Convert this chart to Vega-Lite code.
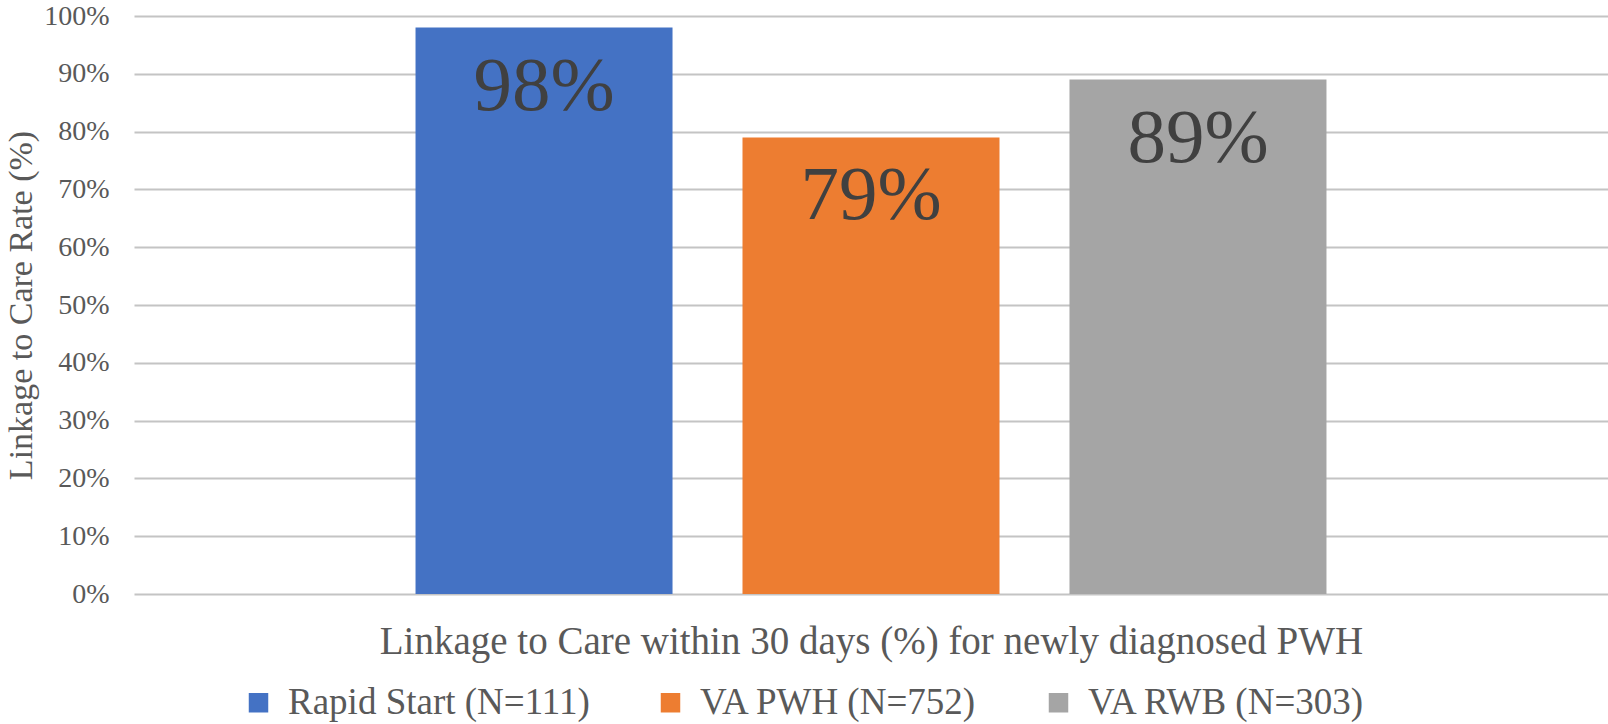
{
  "$schema": "https://vega.github.io/schema/vega-lite/v6.json",
  "width": 1474,
  "height": 578,
  "autosize": {"type": "none"},
  "padding": {"left": 134, "top": 16, "right": 0, "bottom": 130},
  "background": "white",
  "config": {
    "view": {"stroke": null},
    "font": "Liberation Serif"
  },
  "data": {
    "values": [
      {"group": "Rapid Start (N=111)", "rate": 0.98},
      {"group": "VA PWH (N=752)", "rate": 0.79},
      {"group": "VA RWB (N=303)", "rate": 0.89}
    ]
  },
  "encoding": {
    "x": {
      "field": "group",
      "type": "nominal",
      "sort": ["Rapid Start (N=111)", "VA PWH (N=752)", "VA RWB (N=303)"],
      "scale": {"paddingInner": 0.214, "paddingOuter": 0.861},
      "axis": {
        "title": "Linkage to Care within 30 days (%) for newly diagnosed PWH",
        "labels": false,
        "ticks": false,
        "domain": false,
        "titleFont": "Liberation Serif",
        "titleFontSize": 39,
        "titleFontWeight": "normal",
        "titleColor": "#595959",
        "titleBaseline": "alphabetic",
        "titleY": 59
      }
    },
    "y": {
      "field": "rate",
      "type": "quantitative",
      "scale": {"domain": [0, 1]},
      "axis": {
        "title": "Linkage to Care Rate (%)",
        "values": [0, 0.1, 0.2, 0.3, 0.4, 0.5, 0.6, 0.7, 0.8, 0.9, 1],
        "format": ".0%",
        "labelFont": "Liberation Serif",
        "labelFontSize": 28,
        "labelColor": "#595959",
        "labelPadding": 25,
        "ticks": false,
        "domain": false,
        "gridColor": "#c4c4c4",
        "gridWidth": 2,
        "titleFont": "Liberation Serif",
        "titleFontSize": 34,
        "titleFontWeight": "normal",
        "titleColor": "#595959",
        "titleBaseline": "alphabetic",
        "titleX": -103
      }
    }
  },
  "layer": [
    {
      "mark": {"type": "bar"},
      "encoding": {
        "color": {
          "field": "group",
          "type": "nominal",
          "sort": ["Rapid Start (N=111)", "VA PWH (N=752)", "VA RWB (N=303)"],
          "scale": {
            "domain": ["Rapid Start (N=111)", "VA PWH (N=752)", "VA RWB (N=303)"],
            "range": ["#4472C4", "#ED7D31", "#A5A5A5"]
          },
          "legend": {
            "title": null,
            "orient": "none",
            "direction": "horizontal",
            "legendX": 106,
            "legendY": 668,
            "symbolType": "square",
            "symbolSize": 380,
            "symbolStrokeWidth": 0,
            "labelFont": "Liberation Serif",
            "labelFontSize": 37,
            "labelColor": "#595959",
            "labelOffset": 11,
            "labelLimit": 600,
            "columnPadding": 62
          }
        }
      }
    },
    {
      "mark": {
        "type": "text",
        "baseline": "alphabetic",
        "align": "center",
        "dy": 82,
        "font": "Liberation Serif",
        "fontSize": 77,
        "color": "#404040"
      },
      "encoding": {
        "text": {"field": "rate", "type": "quantitative", "format": ".0%"}
      }
    }
  ]
}
